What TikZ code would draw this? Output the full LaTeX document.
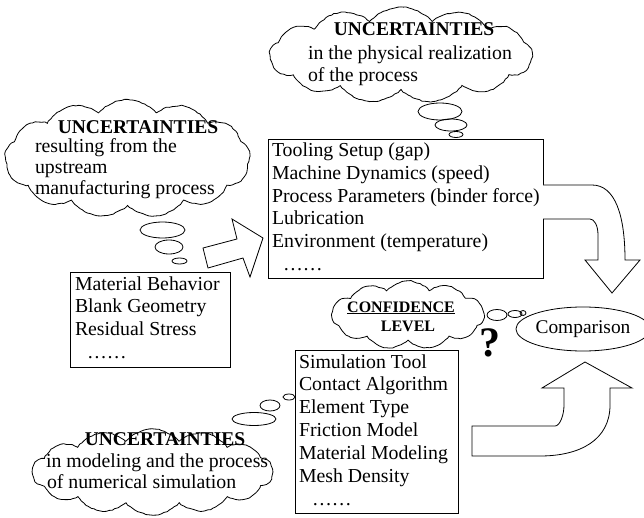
\documentclass[tikz,border=0pt]{standalone}
\usepackage{fontspec}
\setmainfont{Liberation Serif}
\usetikzlibrary{shapes.symbols,shapes.geometric,decorations.pathmorphing}
\begin{document}
\begin{tikzpicture}[x=1pt,y=-1pt,
  every node/.style={inner sep=0pt, outer sep=0pt},
  txt/.style={anchor=base west, font=\fontsize{19.8}{22.8}\selectfont},
  ttl/.style={anchor=base, font=\fontsize{19.5}{22}\selectfont\bfseries},
  listbox/.style={draw, line width=0.8pt, anchor=north west},
  thought/.style={draw, cloud, cloud ignores aspect, cloud puffs=13, cloud puff arc=100, line width=0.8pt,
     decorate, decoration={random steps, segment length=3pt, amplitude=0.5pt}},
  bubble/.style={draw, line width=0.8pt},
  blockarrow/.style={draw, line width=0.8pt, line join=miter, fill=white}]
\pgfmathsetseed{7}
\useasboundingbox (0,0) rectangle (644,518);

% ---------- top cloud ----------
\node[thought, minimum width=262pt, minimum height=96pt] (ctop) at (401,55) {};
\node[ttl] (ctopt) at (414,36) {UNCERTAINTIES};
\node[txt] (ctop1) at (308,60) {in the physical realization};
\node[txt] (ctop2) at (308,82) {of the process};
\draw[bubble] (440,111.5) ellipse [x radius=22pt, y radius=8.5pt];
\draw[bubble] (451,125) ellipse [x radius=16pt, y radius=6pt];
\draw[bubble] (456,134.5) ellipse [x radius=7pt, y radius=3pt];

% ---------- left cloud ----------
\node[thought, minimum width=245pt, minimum height=118pt] (cleft) at (127.5,158.5) {};
\node[ttl] (cleftt) at (138,134) {UNCERTAINTIES};
\node[txt] (cleft1) at (35,153) {resulting from the};
\node[txt] (cleft2) at (35,174) {upstream};
\node[txt] (cleft3) at (35,195) {manufacturing process};
\draw[bubble] (162.5,230) ellipse [x radius=22.5pt, y radius=8pt];
\draw[bubble] (169,247) ellipse [x radius=14pt, y radius=7pt];
\draw[bubble] (179.5,261) ellipse [x radius=7.5pt, y radius=3pt];

% ---------- bottom cloud ----------
\node[thought, cloud puffs=14, minimum width=240pt, minimum height=86pt] (cbot) at (152.5,472) {};
\node[ttl] (cbott) at (165,445) {UNCERTAINTIES};
\node[txt] (cbot1) at (46,467) {in modeling and the process};
\node[txt] (cbot2) at (47,488) {of numerical simulation};
\draw[bubble] (254,419) ellipse [x radius=22pt, y radius=6.5pt];
\draw[bubble] (270,405.5) ellipse [x radius=10pt, y radius=5.5pt];
\draw[bubble] (289,397) ellipse [x radius=6pt, y radius=3pt];

% ---------- confidence cloud ----------
\node[thought, cloud puffs=11, minimum width=152pt, minimum height=68pt] (cconf) at (408,315) {};
\node[anchor=base, font=\fontsize{16}{18}\selectfont\bfseries] (cconf1) at (401,312) {\underline{CONFIDENCE}};
\node[anchor=base, font=\fontsize{16}{18}\selectfont\bfseries] (cconf2) at (408,331) {LEVEL};
\draw[bubble] (497,315) ellipse [x radius=10pt, y radius=5.5pt];
\draw[bubble] (515,314) ellipse [x radius=7pt, y radius=3.5pt];
\draw[bubble] (523,313) ellipse [x radius=3pt, y radius=2.5pt];
\node[anchor=base, font=\fontsize{42}{44}\selectfont\bfseries] (qm) at (490,356) {?};

% ---------- comparison ----------
\node[draw, ellipse, line width=0.8pt, minimum width=120pt, minimum height=44pt,
      font=\fontsize{19.4}{22}\selectfont] (cmp) at (583,329) {Comparison};

% ---------- boxes ----------
\node[listbox, minimum width=275pt, minimum height=139pt] (setup) at (268,139) {};
\foreach \t [count=\i from 0] in {Tooling Setup (gap), Machine Dynamics (speed),
   Process Parameters (binder force), Lubrication, Environment (temperature)}
  \node[txt] (setup\i) at (272,{157+22.6*\i}) {\t};
\node[txt] (setupd) at (283,270) {……};

\node[listbox, minimum width=160pt, minimum height=95pt] (mat) at (70,272) {};
\foreach \t [count=\i from 0] in {Material Behavior, Blank Geometry, Residual Stress}
  \node[txt] (mat\i) at (75,{290+22.7*\i}) {\t};
\node[txt] (matd) at (87,358) {……};

\node[listbox, minimum width=163pt, minimum height=163pt] (sim) at (295,350) {};
\foreach \t [count=\i from 0] in {Simulation Tool, Contact Algorithm, Element Type,
   Friction Model, Material Modeling, Mesh Density}
  \node[txt] (sim\i) at (299,{368+22.8*\i}) {\t};
\node[txt] (simd) at (312,505) {……};

% ---------- block arrows ----------
\draw[blockarrow] (203,248) -- (237,239) -- (232,219) -- (263,238) -- (250,277)
   -- (243,258) -- (208,268) -- cycle;

\draw[blockarrow] (setup.east |- 0,185) -- (592,185)
   .. controls (615,185) and (625,215) .. (625,260) -- (640,260) -- (612,293)
   -- (585,260) -- (598,260) -- (598,235)
   .. controls (598,225) and (594,219) .. (590,219) -- (setup.east |- 0,219);

\draw[blockarrow] (472,426) -- (555,426) .. controls (560,426) and (564,415) .. (564,405)
   -- (564,388) -- (542,388) -- (585,362) -- (632,388) -- (610,388) -- (610,405)
   .. controls (610,440) and (580,456) .. (540,456) -- (472,456) -- cycle;
\end{tikzpicture}
\end{document}
